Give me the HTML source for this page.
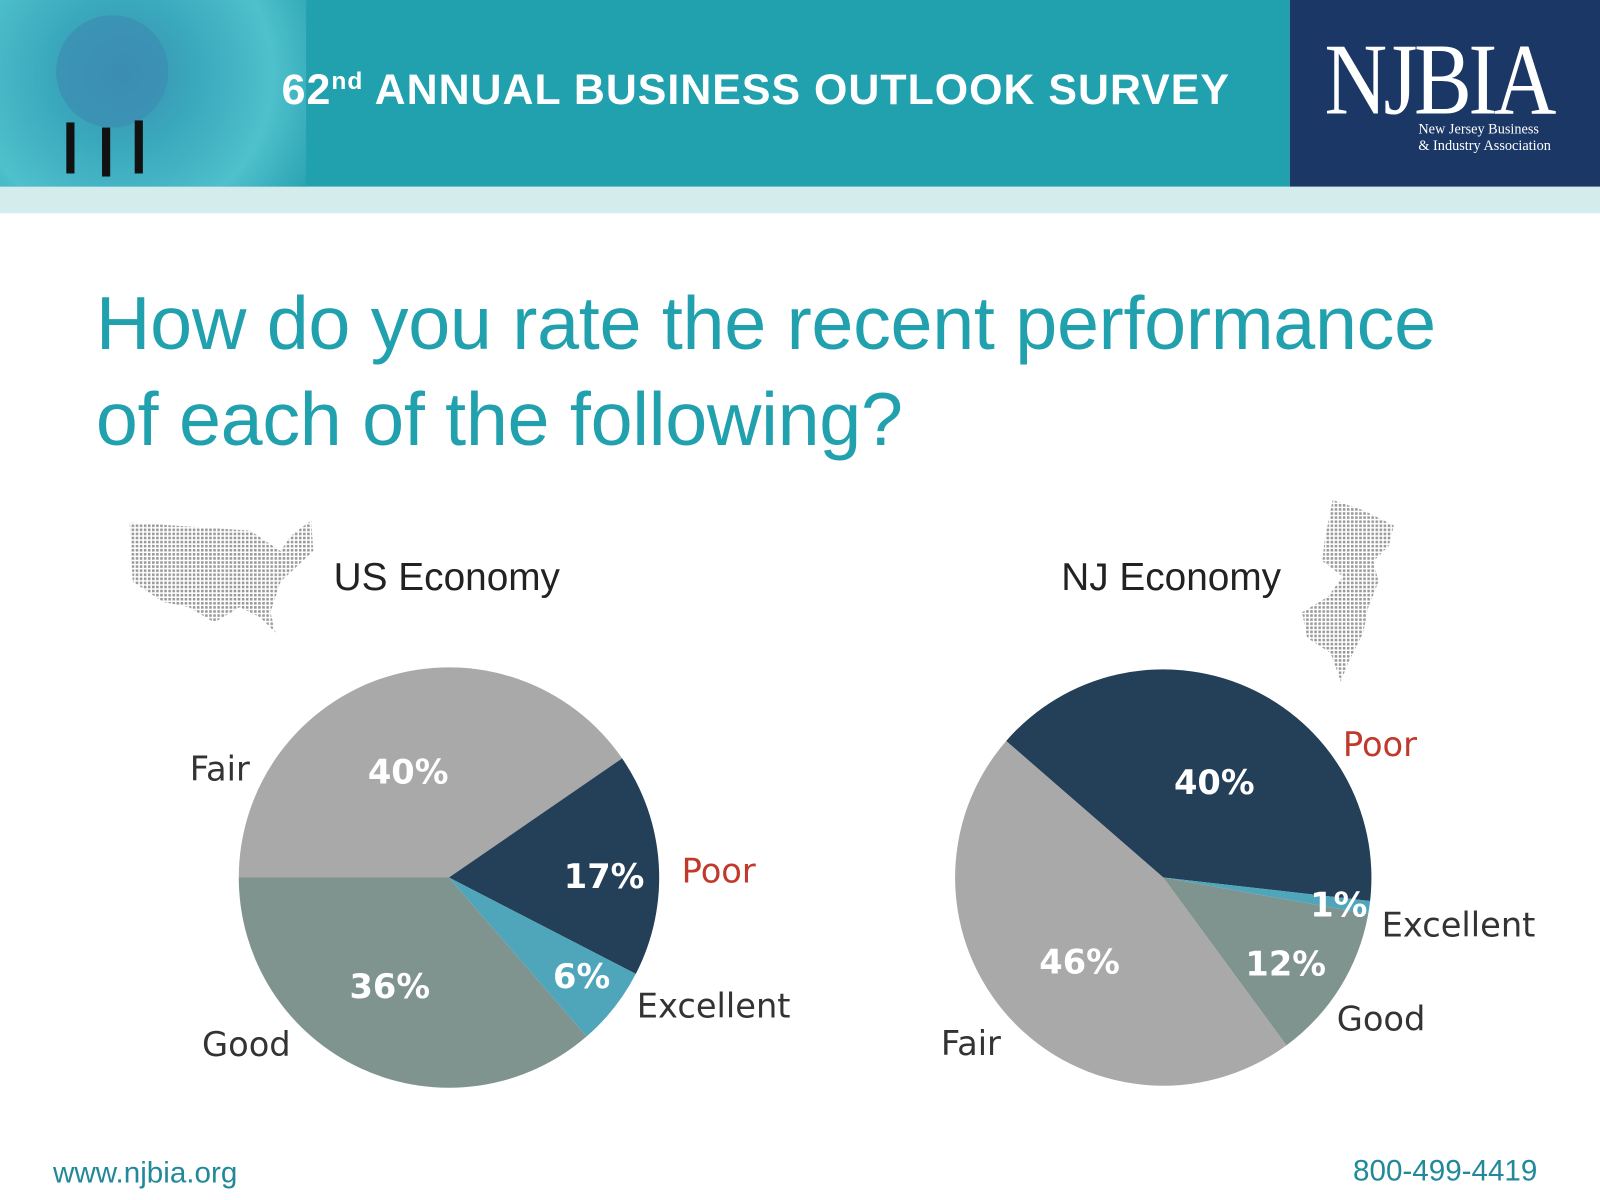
<!DOCTYPE html>
<html><head><meta charset="utf-8"><style>
html,body{margin:0;padding:0;background:#fff;overflow:hidden}
#root{position:absolute;left:0;top:0;width:1568px;height:1176px;transform:scale(1.020408);transform-origin:0 0;font-family:"Liberation Sans",sans-serif}
.abs{position:absolute}
</style></head><body>
<div id="root">
  <div class="abs" style="left:0;top:0;width:1264px;height:183px;background:#21a0ae"></div>
  <div class="abs" style="left:0;top:0;width:300px;height:183px;background:radial-gradient(circle at 40% 40%,#3b8fb0 0,#3aa9bd 35%,#4fc0cc 70%,#2aa3b2 100%)"></div>
  <svg class="abs" style="left:0;top:0" width="300" height="183">
    <circle cx="110" cy="70" r="55" fill="#3c8db2" opacity=".7"/>
    <g fill="#111"><rect x="65" y="120" width="8" height="50"/><rect x="100" y="125" width="8" height="48"/><rect x="132" y="118" width="8" height="52"/></g>
  </svg>
  <div class="abs" style="left:276px;top:64px;color:#fff;font-weight:bold;font-size:42px;white-space:nowrap;letter-spacing:1px">62<sup style="font-size:24px">nd</sup> ANNUAL BUSINESS OUTLOOK SURVEY</div>
  <div class="abs" style="left:1264px;top:0;width:304px;height:183px;background:#1b3766">
    <div class="abs" style="left:34px;top:28px;color:#fff;font-family:'Liberation Serif',serif;font-size:100px;line-height:100px;letter-spacing:-4px;transform:scaleX(.85);transform-origin:0 0">NJBIA</div>
    <div class="abs" style="left:126px;top:120px;color:#fff;font-family:'Liberation Serif',serif;font-size:14px;line-height:16px">New Jersey Business<br>&amp; Industry Association</div>
  </div>
  <div class="abs" style="left:0;top:183px;width:1568px;height:26px;background:#d5eced"></div>
  <div class="abs" style="left:94px;top:270px;color:#21a0ae;font-size:74px;line-height:94px;letter-spacing:-0.3px">How do you rate the recent performance<br>of each of the following?</div>
  <svg class="abs" style="left:125px;top:510px" width="185" height="115">
    <defs><pattern id="dots" width="4" height="4" patternUnits="userSpaceOnUse"><rect width="2.5" height="2.5" fill="#999"/></pattern></defs>
    <path d="M2 2 L120 10 L150 30 L160 15 L180 0 L182 30 L150 60 L140 90 L145 110 L130 95 L110 85 L85 100 L60 85 L35 80 L5 60 Z" fill="url(#dots)"/>
  </svg>
  <svg class="abs" style="left:1276px;top:490px" width="95" height="180">
    <path d="M30 0 L60 10 L90 25 L85 45 L70 60 L75 80 L65 105 L60 130 L45 160 L38 178 L28 150 L5 135 L0 110 L25 95 L40 75 L20 60 L22 40 Z" fill="url(#dots)"/>
  </svg>
  <div class="abs" style="left:327px;top:545px;font-size:38px;color:#222">US Economy</div>
  <div class="abs" style="left:1040px;top:545px;font-size:38px;color:#222">NJ Economy</div>
  <svg id="chart" class="abs" style="left:0;top:0" width="1568" height="1176"></svg>
  <div class="abs" style="left:52px;top:1134px;font-size:29px;color:#21899a">www.njbia.org</div>
  <div class="abs" style="left:1326px;top:1132px;font-size:29px;color:#21899a">800-499-4419</div>
</div>
<script>
const categories = ["Fair","Poor","Excellent","Good"];
const usValues = [40,17,6,36];
const njValues = [46,40,1,12];
const colors = {Fair:"#a9a9a9",Poor:"#243f58",Excellent:"#4fa6bb",Good:"#7f938f"};
const NS="http://www.w3.org/2000/svg";
const svg=document.getElementById('chart');
function mk(t,a){const e=document.createElementNS(NS,t);for(const k in a)e.setAttribute(k,a[k]);return e;}
const pies=[
 {id:'us',cx:440,cy:860,r:206,vals:usValues,order:["Fair","Poor","Excellent","Good"],start:180,
  lbl:{Fair:[186,765,'#333'],Poor:[668,865,'#c0392b'],Excellent:[624,997,'#333'],Good:[198,1035,'#333']},
  pct:{Fair:[400,768],Poor:[592,870],Excellent:[570,968],Good:[382,978]}},
 {id:'nj',cx:1140,cy:860,r:204,vals:njValues,order:["Poor","Excellent","Good","Fair"],start:221,
  lbl:{Fair:[922,1034,'#333'],Poor:[1316,741,'#c0392b'],Excellent:[1354,918,'#333'],Good:[1310,1010,'#333']},
  pct:{Fair:[1058,954],Poor:[1190,778],Excellent:[1312,898],Good:[1260,956]}}
];
pies.forEach(p=>{
  const total=p.order.reduce((s,c)=>s+p.vals[categories.indexOf(c)],0);
  let a=p.start;
  p.order.forEach(c=>{
    const v=p.vals[categories.indexOf(c)];
    const sweep=v/total*360;
    const a0=a*Math.PI/180,a1=(a+sweep)*Math.PI/180;
    const x0=p.cx+p.r*Math.cos(a0),y0=p.cy+p.r*Math.sin(a0);
    const x1=p.cx+p.r*Math.cos(a1),y1=p.cy+p.r*Math.sin(a1);
    const path=mk('path',{d:`M${p.cx} ${p.cy} L${x0} ${y0} A${p.r} ${p.r} 0 ${sweep>180?1:0} 1 ${x1} ${y1} Z`,fill:colors[c]});
    
    
    svg.appendChild(path);
    a+=sweep;
  });
  categories.forEach((c,i)=>{
    const [px,py]=p.pct[c];
    const t=mk('text',{x:px,y:py,'text-anchor':'middle',fill:'#fff','font-size':33,'font-weight':'bold','font-family':'"DejaVu Sans","Liberation Sans",sans-serif'});
    t.textContent=p.vals[i]+'%';
    
    
    svg.appendChild(t);
    const [lx,ly,col]=p.lbl[c];
    const l=mk('text',{x:lx,y:ly,fill:col,'font-size':33,'font-family':'"DejaVu Sans","Liberation Sans",sans-serif'});
    l.textContent=c;
    
    
    svg.appendChild(l);
  });
});
</script>
</body></html>
